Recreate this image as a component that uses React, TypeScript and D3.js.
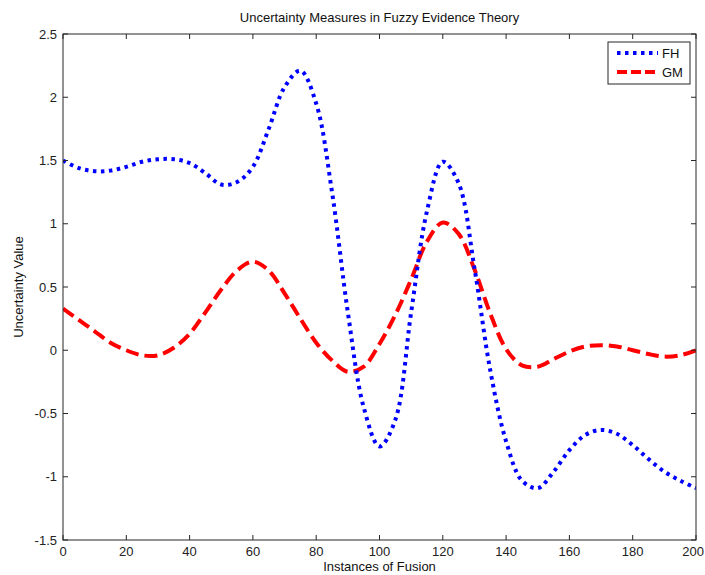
import React from "react";
import * as d3 from "d3";

const xValues = [0,5,10,15,20,25,30,35,40,45,50,55,60,65,70,75,80,85,90,95,100,105,110,115,120,125,130,135,140,145,150,155,160,165,170,175,180,185,190,195,200];
const fhValues = [1.50,1.44,1.415,1.42,1.45,1.49,1.51,1.51,1.48,1.40,1.31,1.33,1.45,1.75,2.08,2.21,1.95,1.25,0.30,-0.45,-0.76,-0.55,0.30,1.10,1.49,1.32,0.65,-0.16,-0.72,-1.03,-1.09,-0.96,-0.79,-0.67,-0.63,-0.66,-0.75,-0.86,-0.96,-1.03,-1.09];
const gmValues = [0.33,0.24,0.15,0.06,0.00,-0.04,-0.04,0.02,0.13,0.30,0.48,0.63,0.70,0.63,0.45,0.25,0.06,-0.08,-0.17,-0.13,0.05,0.28,0.56,0.86,1.01,0.92,0.64,0.29,0.01,-0.12,-0.13,-0.07,-0.01,0.03,0.04,0.03,0.00,-0.03,-0.05,-0.04,0.00];
const xTicks = [0,20,40,60,80,100,120,140,160,180,200];
const yTicks = [-1.5,-1,-0.5,0,0.5,1,1.5,2,2.5];
const seriesNames = ["FH", "GM"];
const titleText = "Uncertainty Measures in Fuzzy Evidence Theory";
const xLabel = "Instances of Fusion";
const yLabel = "Uncertainty Value";

const W = 705, H = 575;
const L = 63, R = 696, T = 34, B = 540;
const font = "Liberation Sans, Arial, sans-serif";
const axisColor = "#262626";

export default function App() {
  const x = d3.scaleLinear().domain([0, 200]).range([L, R]);
  const y = d3.scaleLinear().domain([-1.5, 2.5]).range([B, T]);
  const line = d3.line<number>()
    .x((_, i) => x(xValues[i]))
    .y((d) => y(d))
    .curve(d3.curveCatmullRom.alpha(0.5));
  const tl = 5;
  return (
    <div style={{ position: "fixed", left: 0, top: 0 }}>
      <svg width={W} height={H} style={{ display: "block", background: "#fff" }} fontFamily={font}>
        <rect x={0} y={0} width={W} height={H} fill="#fff" />
        <defs>
          <clipPath id="plotclip">
            <rect x={L} y={T} width={R - L} height={B - T} />
          </clipPath>
        </defs>
        <g clipPath="url(#plotclip)">
          <path d={line(gmValues) || ""} fill="none" stroke="#ff0000" strokeWidth={4} strokeDasharray="13 6" />
          <path d={line(fhValues) || ""} fill="none" stroke="#0000ff" strokeWidth={4} strokeDasharray="3.5 4.5" />
        </g>
        <rect x={L} y={T} width={R - L} height={B - T} fill="none" stroke={axisColor} strokeWidth={1} />
        {xTicks.map((t, i) => {
          const last = i === xTicks.length - 1;
          return (
            <g key={"x" + t}>
              <line x1={x(t)} x2={x(t)} y1={B} y2={B - tl} stroke={axisColor} />
              <line x1={x(t)} x2={x(t)} y1={T} y2={T + tl} stroke={axisColor} />
              <text x={last ? W - 1 : x(t)} y={B + 16} textAnchor={last ? "end" : "middle"} fontSize={13} fill="#222">{t}</text>
            </g>
          );
        })}
        {yTicks.map((t) => (
          <g key={"y" + t}>
            <line x1={L} x2={L + tl} y1={y(t)} y2={y(t)} stroke={axisColor} />
            <line x1={R} x2={R - tl} y1={y(t)} y2={y(t)} stroke={axisColor} />
            <text x={L - 6} y={y(t) + 4.5} textAnchor="end" fontSize={13} fill="#222">{t}</text>
          </g>
        ))}
        <text x={(L + R) / 2} y={22} textAnchor="middle" fontSize={13} fill="#111">{titleText}</text>
        <text x={(L + R) / 2} y={571} textAnchor="middle" fontSize={13} fill="#111">{xLabel}</text>
        <text transform={`translate(23,${(T + B) / 2}) rotate(-90)`} textAnchor="middle" fontSize={13} fill="#111">{yLabel}</text>
        <g>
          <rect x={608} y={42} width={82} height={42} fill="#fff" stroke={axisColor} />
          <line x1={617} x2={658} y1={53} y2={53} stroke="#0000ff" strokeWidth={4} strokeDasharray="3.5 4.5" />
          <line x1={617} x2={658} y1={72} y2={72} stroke="#ff0000" strokeWidth={4} strokeDasharray="10 4" />
          <text x={662} y={58} fontSize={13} fill="#111">{seriesNames[0]}</text>
          <text x={662} y={77} fontSize={13} fill="#111">{seriesNames[1]}</text>
        </g>
      </svg>
    </div>
  );
}
